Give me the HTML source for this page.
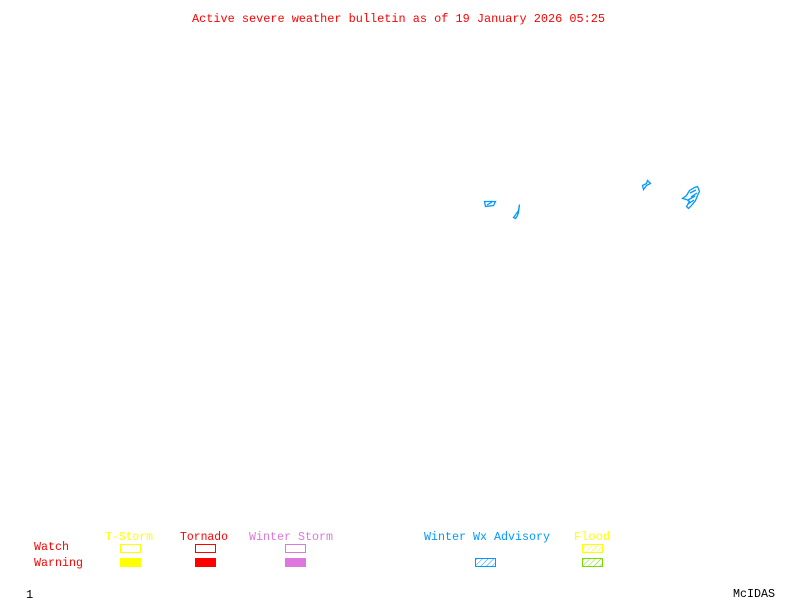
<!DOCTYPE html>
<html><head><style>
html,body{margin:0;padding:0;background:#fff;}
svg{display:block;}
text{font-family:"Liberation Mono",monospace;font-size:12px;}
</style></head><body>
<svg width="800" height="600" viewBox="0 0 800 600" xmlns="http://www.w3.org/2000/svg">
<defs>
<pattern id="hb" width="4" height="4" patternUnits="userSpaceOnUse" patternTransform="rotate(45)"><line x1="0" y1="0" x2="0" y2="4" stroke="#0099ff" stroke-width="1"/></pattern>
<pattern id="hy" width="4" height="4" patternUnits="userSpaceOnUse" patternTransform="rotate(45)"><line x1="0" y1="0" x2="0" y2="4" stroke="#ffff00" stroke-width="1"/></pattern>
<pattern id="hg" width="4" height="4" patternUnits="userSpaceOnUse" patternTransform="rotate(45)"><line x1="0" y1="0" x2="0" y2="4" stroke="#77dd00" stroke-width="1"/></pattern>
</defs>
<text x="192" y="22" fill="#ff0000" textLength="413" lengthAdjust="spacingAndGlyphs">Active severe weather bulletin as of 19 January 2026 05:25</text>
<g fill="none" stroke="#0099ff" stroke-width="1.3">
<path d="M484.5 201.5 L495.5 201.5 L493.5 205.5 L485.5 206.5 Z M487 205 L492 202"/>
<path d="M519.5 204.5 L518.5 210.5 L516.5 213.5 L513.5 217.5 L515.5 218.5 L517.5 215.5 L518.5 212.5 Z"/>
<path d="M642.5 185.5 L646.5 183.5 L647.5 180.5 L650.5 183.5 L646.5 185.5 L643.5 189.5 Z"/>
<path d="M689.5 190.5 L694.5 187.5 L697.5 186.5 L699.5 191.5 L697.5 195.5 L695.5 200.5 L691.5 205.5 L688.5 208.5 L686.5 206.5 L689.5 201.5 L686.5 199.5 L682.5 198.5 L686.5 195.5 Z M690 193 L696 190 M688 200 L695 196 M688 204 L694 200 M691 197 L697 193"/>
</g>
<text x="105" y="540" fill="#ffff00" textLength="48" lengthAdjust="spacingAndGlyphs">T-Storm</text>
<text x="180" y="540" fill="#ff0000" textLength="48" lengthAdjust="spacingAndGlyphs">Tornado</text>
<text x="249" y="540" fill="#dd77dd" textLength="84" lengthAdjust="spacingAndGlyphs">Winter Storm</text>
<text x="424" y="540" fill="#0099ff" textLength="126" lengthAdjust="spacingAndGlyphs">Winter Wx Advisory</text>
<text x="574" y="540" fill="#ffff00" textLength="36" lengthAdjust="spacingAndGlyphs">Flood</text>
<text x="34" y="550" fill="#ff0000" textLength="35" lengthAdjust="spacingAndGlyphs">Watch</text>
<text x="34" y="566" fill="#ff0000" textLength="49" lengthAdjust="spacingAndGlyphs">Warning</text>
<rect x="120.5" y="544.5" width="20" height="8" fill="none" stroke="#ffff00"/>
<rect x="120" y="558" width="21" height="9" fill="#ffff00"/>
<rect x="195.5" y="544.5" width="20" height="8" fill="none" stroke="#ff0000"/>
<rect x="195" y="558" width="21" height="9" fill="#ff0000"/>
<rect x="285.5" y="544.5" width="20" height="8" fill="none" stroke="#dd77dd"/>
<rect x="285" y="558" width="21" height="9" fill="#dd77dd"/>
<rect x="475.5" y="558.5" width="20" height="8" fill="url(#hb)" stroke="#0099ff"/>
<rect x="582.5" y="544.5" width="20" height="8" fill="url(#hy)" stroke="#ffff00"/>
<rect x="582.5" y="558.5" width="20" height="8" fill="url(#hg)" stroke="#77dd00"/>
<text x="26" y="598" fill="#000">1</text>
<text x="733" y="597" fill="#000" textLength="42" lengthAdjust="spacingAndGlyphs">McIDAS</text>
</svg>
</body></html>
